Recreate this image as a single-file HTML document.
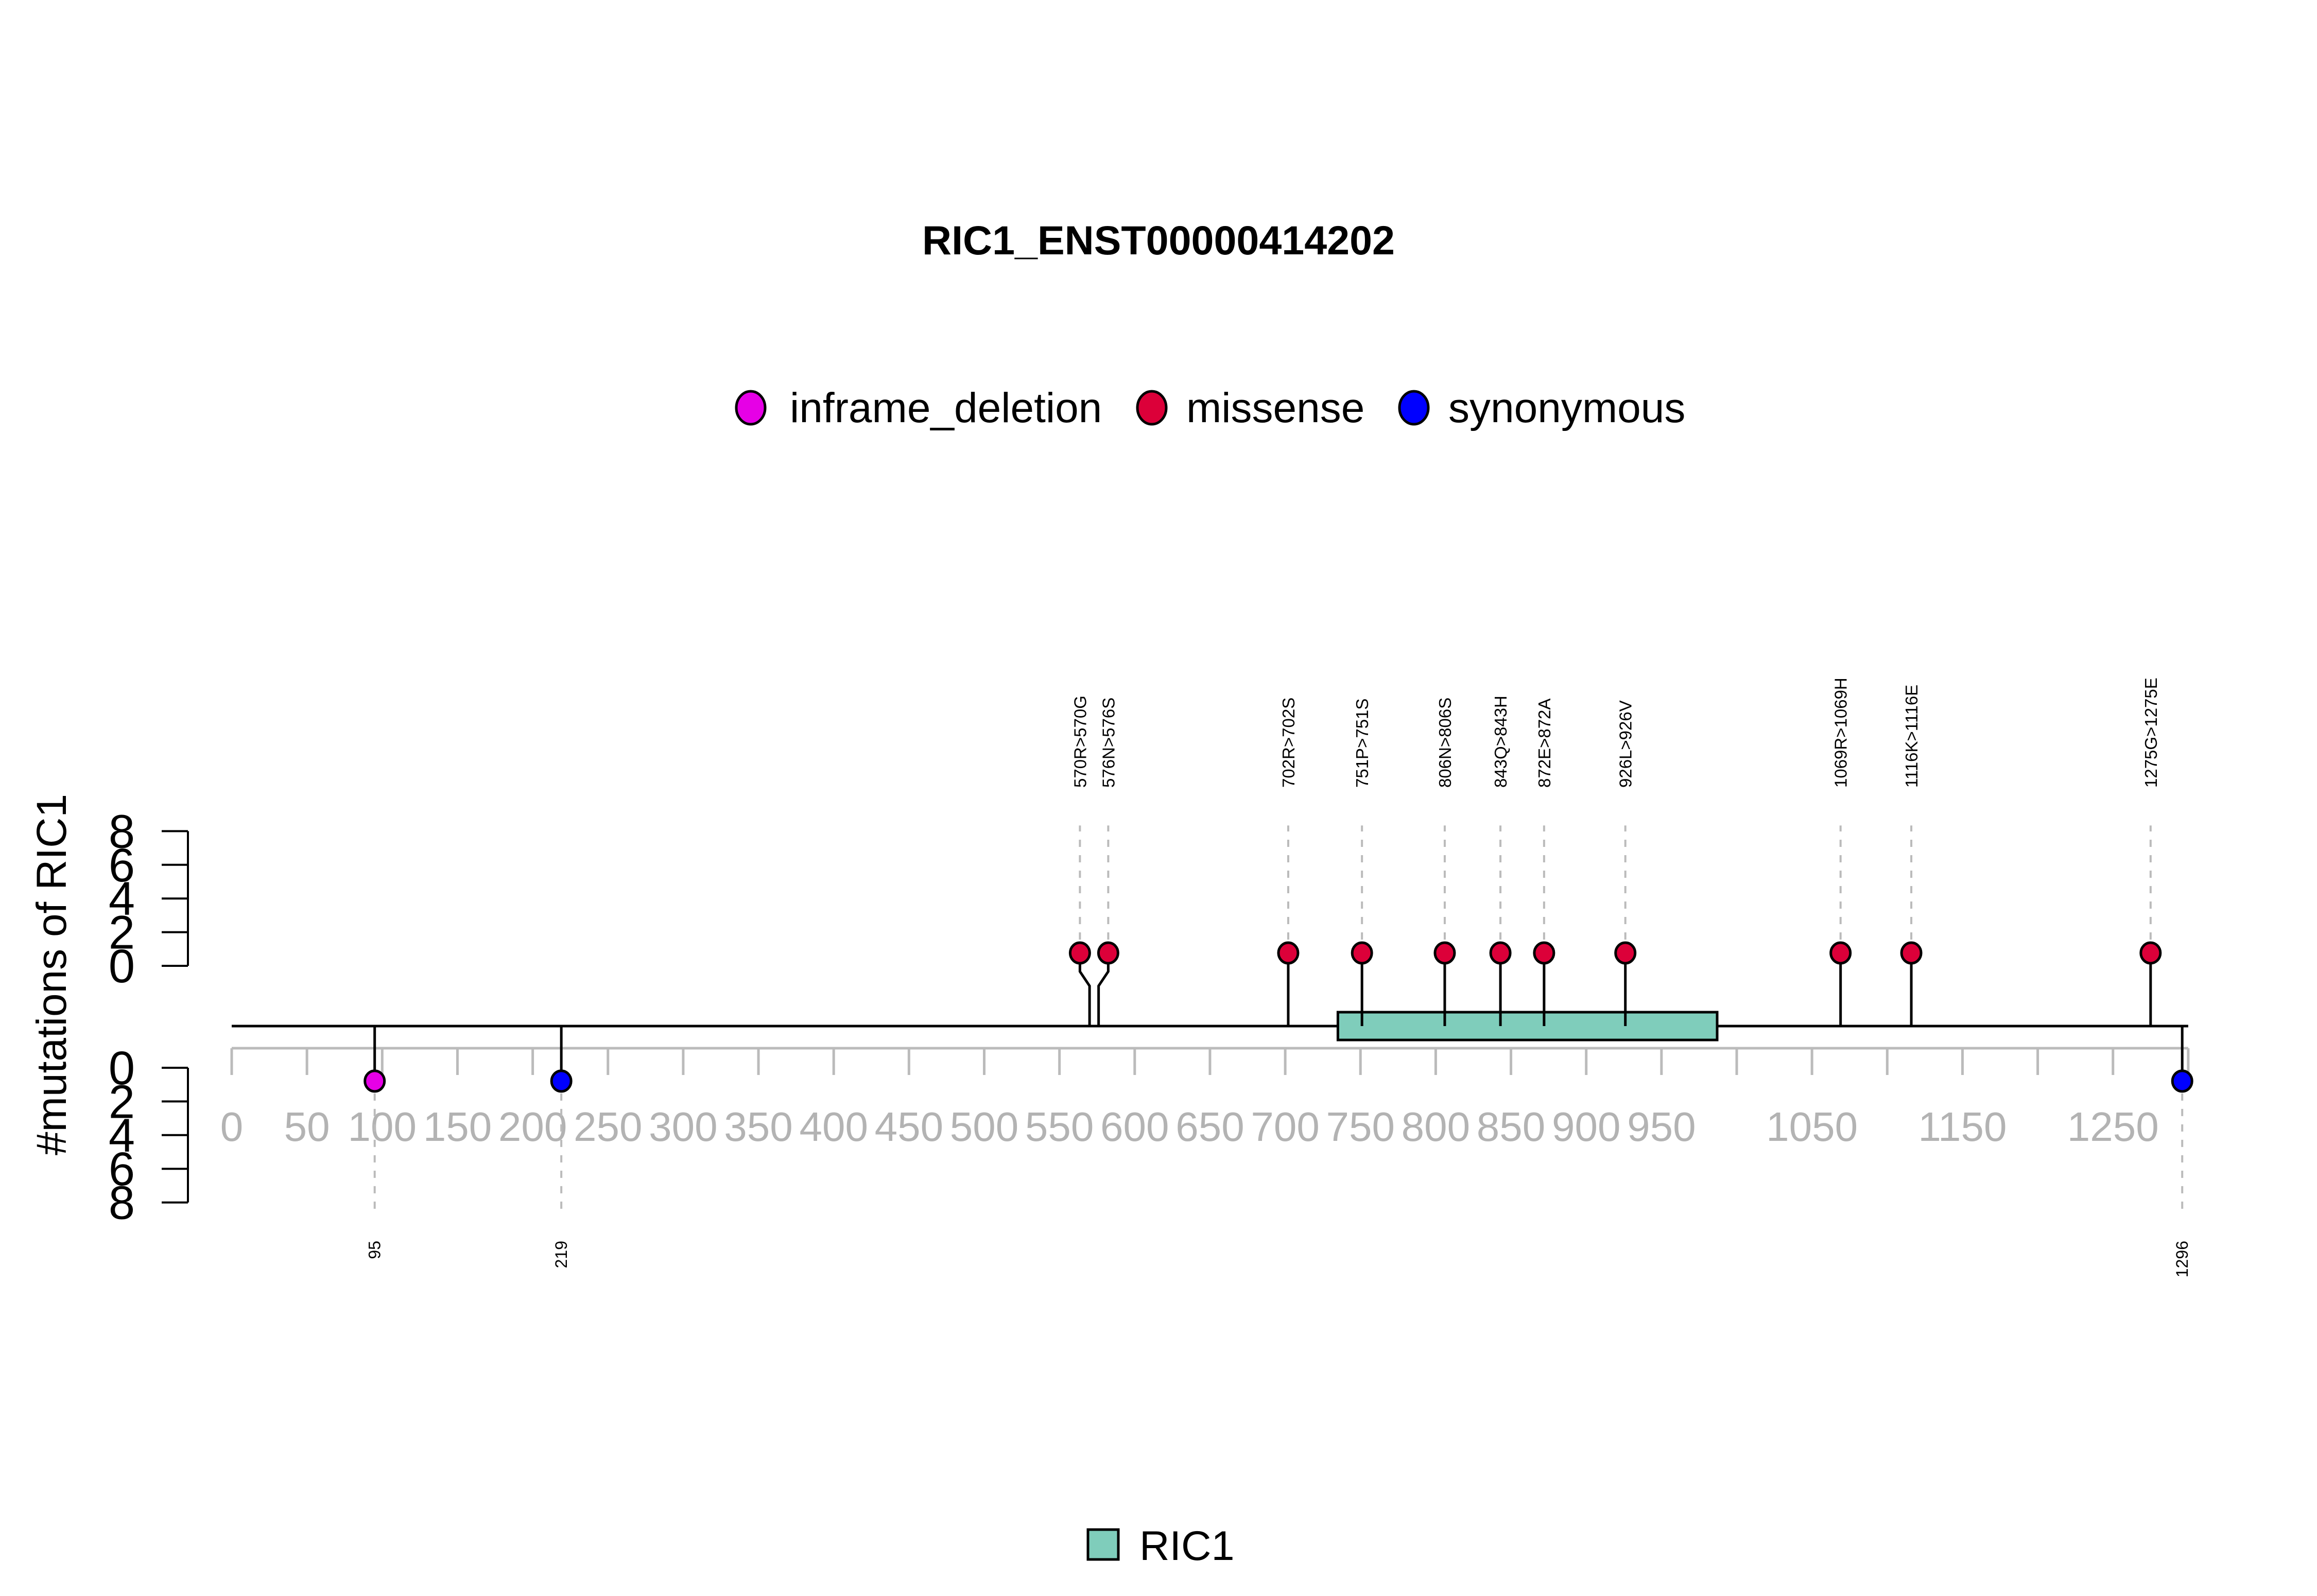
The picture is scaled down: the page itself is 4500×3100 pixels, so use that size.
<!DOCTYPE html>
<html><head><meta charset="utf-8">
<style>
html,body{margin:0;padding:0;background:#fff;}
svg{display:block;font-family:"Liberation Sans",Arial,sans-serif;}
</style></head>
<body>
<svg id="chart" width="4500" height="3100" viewBox="0 0 4500 3100" xmlns="http://www.w3.org/2000/svg">
<rect width="4500" height="3100" fill="#fff"/>
<text x="2250" y="494" font-size="79" font-weight="bold" text-anchor="middle">RIC1_ENST00000414202</text>
<g>
  <g>
    <ellipse cx="1458" cy="792" rx="28" ry="32" fill="#e600e6" stroke="#000" stroke-width="5"/>
    <text x="1534" y="820" font-size="82">inframe_deletion</text>
  </g>
  <g>
    <ellipse cx="2237" cy="792" rx="28" ry="32" fill="#dc0039" stroke="#000" stroke-width="5"/>
    <text x="2304" y="820" font-size="82">missense</text>
  </g>
  <g>
    <ellipse cx="2746" cy="792" rx="28" ry="32" fill="#0000ff" stroke="#000" stroke-width="5"/>
    <text x="2813" y="820" font-size="82">synonymous</text>
  </g>
</g>
<text transform="translate(128,1893) rotate(-90)" font-size="82" text-anchor="middle">#mutations of RIC1</text>
<g id="plot"></g>
<g>
  <g>
    <rect x="2113" y="2971" width="59" height="58" fill="#7fcdbb" stroke="#000" stroke-width="5"/>
    <text x="2213" y="3030" font-size="81">RIC1</text>
  </g>
</g>
</svg>
<script>
const upPositions = [570, 576, 702, 751, 806, 843, 872, 926, 1069, 1116, 1275];
const upLabels = ["570R>570G","576N>576S","702R>702S","751P>751S","806N>806S","843Q>843H","872E>872A","926L>926V","1069R>1069H","1116K>1116E","1275G>1275E"];
const upCounts = [1,1,1,1,1,1,1,1,1,1,1];
const upTypes = ["missense","missense","missense","missense","missense","missense","missense","missense","missense","missense","missense"];
const downPositions = [95, 219, 1296];
const downLabels = ["95","219","1296"];
const downCounts = [1,1,1];
const downTypes = ["inframe_deletion","synonymous","synonymous"];
const domainStart = [735];
const domainEnd = [987];
const domainNames = ["RIC1"];
const proteinLength = 1300;
const xTickValues = [0,50,100,150,200,250,300,350,400,450,500,550,600,650,700,750,800,850,900,950,1000,1050,1100,1150,1200,1250,1300];
const xTickLabels = ["0","50","100","150","200","250","300","350","400","450","500","550","600","650","700","750","800","850","900","950","","1050","","1150","","1250",""];
const yTickValues = [0,2,4,6,8];

const colors = {inframe_deletion:"#e600e6", missense:"#dc0039", synonymous:"#0000ff"};
const NS = "http://www.w3.org/2000/svg";
const plot = document.getElementById('plot');
const X = v => 450 + v * 2.923;
const backboneY = 1993;
const upY = c => 1876 - c * 32.7;
const downY = c => 2074 + c * 32.7;
function mk(tag, attrs, parent) {
  const e = document.createElementNS(NS, tag);
  for (const k in attrs) e.setAttribute(k, attrs[k]);
  (parent || plot).appendChild(e);
  return e;
}

const ya = mk('g', {});


mk('line', {x1:365, x2:365, y1:upY(0), y2:upY(8), stroke:'#000', 'stroke-width':4}, ya);
yTickValues.forEach(v => {
  mk('line', {x1:314, x2:365, y1:upY(v), y2:upY(v), stroke:'#000', 'stroke-width':4}, ya);
  const t = mk('text', {x:262, y:upY(v) + 32, 'font-size':92, 'text-anchor':'end'}, ya);
  t.textContent = v;
});
const yb = mk('g', {});


mk('line', {x1:365, x2:365, y1:downY(0), y2:downY(8), stroke:'#000', 'stroke-width':4}, yb);
yTickValues.forEach(v => {
  mk('line', {x1:314, x2:365, y1:downY(v), y2:downY(v), stroke:'#000', 'stroke-width':4}, yb);
  const t = mk('text', {x:262, y:downY(v) + 32, 'font-size':92, 'text-anchor':'end'}, yb);
  t.textContent = v;
});

const xa = mk('g', {});


mk('line', {x1:X(0), x2:X(proteinLength), y1:2036, y2:2036, stroke:'#bbbbbb', 'stroke-width':5}, xa);
xTickValues.forEach((v, i) => {
  mk('line', {x1:X(v), x2:X(v), y1:2036, y2:2088, stroke:'#bbbbbb', 'stroke-width':5}, xa);
  if (xTickLabels[i]) {
    const t = mk('text', {x:X(v), y:2216, 'font-size':80, 'text-anchor':'middle', fill:'#b3b3b3'}, xa);
    t.textContent = xTickLabels[i];
  }
});

const bb = mk('line', {x1:X(0), x2:X(proteinLength), y1:backboneY, y2:backboneY, stroke:'#000', 'stroke-width':5});



domainStart.forEach((s, i) => {
  const r = mk('rect', {x:X(s), y:1966, width:X(domainEnd[i]) - X(s), height:54, fill:'#7fcdbb', stroke:'#000', 'stroke-width':5});
  
  
});

const upX = upPositions.map(X);
const headX = upX.slice();
for (let i = 1; i < headX.length; i++) {
  if (headX[i] - headX[i-1] < 55) {
    const mid = (upX[i] + upX[i-1]) / 2;
    headX[i-1] = mid - 27.5; headX[i] = mid + 27.5;
  }
}
upPositions.forEach((p, i) => {
  const g = mk('g', {});
  
  
  const cy = upY(upCounts[i] * 0.765);
  const hx = headX[i], bx = upX[i];
  const pts = hx === bx ? `${bx},${backboneY} ${bx},${cy}` :
    `${bx},${backboneY} ${bx},1915 ${hx},1887 ${hx},${cy}`;
  mk('polyline', {points:pts, fill:'none', stroke:'#000', 'stroke-width':5}, g);
  mk('line', {x1:hx, x2:hx, y1:cy - 26, y2:upY(8) - 11, stroke:'#bbbbbb', 'stroke-width':4, 'stroke-dasharray':'14 16'}, g);
  mk('ellipse', {cx:hx, cy:cy, rx:19, ry:20, fill:colors[upTypes[i]], stroke:'#000', 'stroke-width':5}, g);
  const t = mk('text', {transform:`translate(${hx + 12},1530) rotate(-90)`, 'font-size':33}, g);
  t.textContent = upLabels[i];
});

downPositions.forEach((p, i) => {
  const g = mk('g', {});
  
  
  const x = X(p), cy = downY(downCounts[i] * 0.79);
  mk('line', {x1:x, x2:x, y1:backboneY, y2:cy, stroke:'#000', 'stroke-width':5}, g);
  mk('line', {x1:x, x2:x, y1:cy + 24, y2:2349, stroke:'#bbbbbb', 'stroke-width':4, 'stroke-dasharray':'14 16'}, g);
  mk('ellipse', {cx:x, cy:cy, rx:19, ry:20, fill:colors[downTypes[i]], stroke:'#000', 'stroke-width':5}, g);
  const t = mk('text', {transform:`translate(${x + 11},2410) rotate(-90)`, 'font-size':32, 'text-anchor':'end'}, g);
  t.textContent = downLabels[i];
});
</script>
</body></html>
